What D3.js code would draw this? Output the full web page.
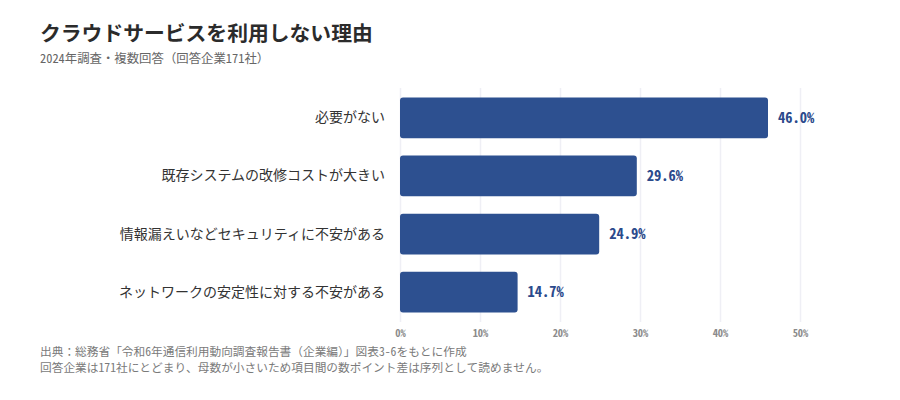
<html>
  <head>
    <meta charset="utf-8" />
    <script src="https://d3js.org/d3.v7.min.js"></script>
    <style>
      body { margin: 0; background: #fff; }
      text { font-family: "Noto Sans Mono CJK JP", "Noto Sans CJK JP", monospace; }
    </style>
  </head>
  <body>
    <svg width="900" height="400" id="chart"></svg>
    <script>
      // data
      const reasons = [
        "必要がない",
        "既存システムの改修コストが大きい",
        "情報漏えいなどセキュリティに不安がある",
        "ネットワークの安定性に対する不安がある",
      ];
      const shares = [46.0, 29.6, 24.9, 14.7];
      const tickValues = [0, 10, 20, 30, 40, 50];
      const footnotes = [
        "出典：総務省「令和6年通信利用動向調査報告書（企業編）」図表3-6をもとに作成",
        "回答企業は171社にとどまり、母数が小さいため項目間の数ポイント差は序列として読めません。",
      ];

      const svg = d3.select("svg#chart");
      const barColor = "#2d5090";

      const xScale = d3.scaleLinear().domain([0, 50]).range([400, 800]);
      const yScale = d3
        .scaleBand()
        .domain(reasons)
        .range([80, 330])
        .padding(0.3);

      // title block
      svg
        .append("text")
        .attr("x", 40)
        .attr("y", 41)
        .attr("font-size", 20.8)
        .attr("font-weight", "bold")
        .attr("fill", "#2b2b2b")
        .text("クラウドサービスを利用しない理由");
      svg
        .append("text")
        .attr("x", 40)
        .attr("y", 63)
        .attr("font-size", 12.4)
        .attr("fill", "#666")
        .text("2024年調査・複数回答（回答企業171社）");

      // vertical gridlines
      const grid = d3
        .axisBottom(xScale)
        .tickValues(tickValues)
        .tickSize(-234)
        .tickFormat("");
      svg
        .append("g")
        .attr("class", "x gridlines")
        .attr("transform", "translate(0, 322)")
        .call(grid)
        .call((g) => g.select(".domain").remove())
        .call((g) =>
          g.selectAll("line").attr("stroke", "#efeff5").attr("stroke-width", 1.5)
        );

      // bottom tick labels
      const axis = d3
        .axisBottom(xScale)
        .tickValues(tickValues)
        .tickSize(0)
        .tickPadding(0)
        .tickFormat((d) => d + "%");
      svg
        .append("g")
        .attr("class", "x axis")
        .attr("transform", "translate(0, 330)")
        .call(axis)
        .call((g) => g.select(".domain").remove())
        .call((g) =>
          g
            .selectAll("text")
            .attr("font-size", 10.5)
            .attr("font-weight", "bold")
            .attr("fill", "#8b8b8b")
            .style("font-family", "'Noto Sans Mono CJK JP', monospace")
        );

      // category labels
      const yAxis = d3.axisLeft(yScale).tickSize(0).tickPadding(15);
      svg
        .append("g")
        .attr("class", "y axis")
        .attr("transform", "translate(400, 0)")
        .call(yAxis)
        .call((g) => g.select(".domain").remove())
        .call((g) =>
          g
            .selectAll("text")
            .attr("font-size", 14)
            .attr("fill", "#333")
            .style("font-family", "'Noto Sans CJK JP', sans-serif")
        );

      // bars
      reasons.forEach((r, i) => {
        svg
          .append("rect")
          .attr("x", xScale(0))
          .attr("y", yScale(r))
          .attr("width", xScale(shares[i]) - xScale(0))
          .attr("height", yScale.bandwidth())
          .attr("rx", 3)
          .attr("fill", barColor);

        svg
          .append("text")
          .attr("x", xScale(shares[i]) + 10)
          .attr("y", yScale(r) + yScale.bandwidth() / 2)
          .attr("dy", "0.35em")
          .attr("font-size", 14.5)
          .attr("font-weight", "bold")
          .attr("fill", "#2b4a8c")
          .text(shares[i].toFixed(1) + "%");
      });

      // footnotes
      footnotes.forEach((t, i) => {
        svg
          .append("text")
          .attr("x", 40)
          .attr("y", 356 + i * 16)
          .attr("font-size", 11.7)
          .attr("fill", "#7a7a7a")
          .text(t);
      });
    </script>
  </body>
</html>
